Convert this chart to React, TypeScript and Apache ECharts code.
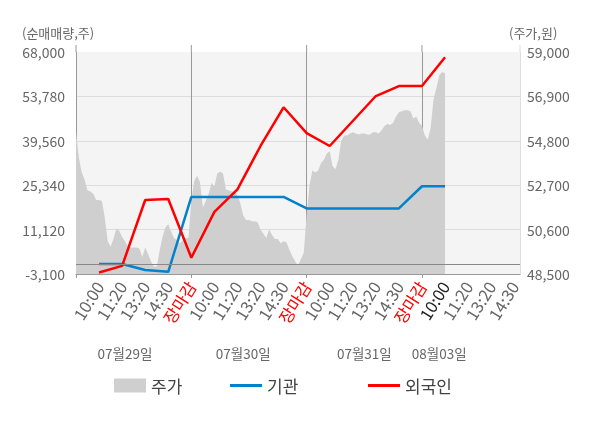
import { useEffect, useRef } from 'react';
import * as echarts from 'echarts';

// ---- data ----
const tickLabels = ['10:00', '11:20', '13:20', '14:30', '장마감'];
const dateLabels = ['07월29일', '07월30일', '07월31일', '08월03일'];
const dateLabelIndex = [17, 58, 100, 126];

// 주가 (price, 원) – sampled 8 points per label slot
const price = [
  55200, 54000, 53300, 52950, 52450, 52400, 52300, 52000, 52000, 51950,
  51150, 50050, 49800, 50150, 50650, 50550, 50250, 50050, 49800, 49750,
  49750, 49750, 49700, 49300, 49750, 49450, 49100, 48850, 48850, 49600,
  50250, 50700, 50850, 50500, 50200, 50100, 49950, 50100, 50200, 50200,
  52000, 52900, 53150, 52850, 51650, 51950, 52300, 52800, 52650, 53250,
  53350, 53250, 52500, 52450, 52400, 52400, 52200, 51850, 51250, 51050,
  51050, 51000, 51000, 50950, 50600, 50400, 50200, 50600, 50350, 50150,
  50150, 49950, 50050, 50000, 49650, 49350, 49100, 48900, 49200, 49500,
  51300, 52700, 53400, 53300, 53400, 53750, 53900, 54200, 54300, 53600,
  53450, 53900, 54800, 55050, 55050, 55150, 55200, 55150, 55100, 55150,
  55150, 55100, 55100, 55200, 55200, 55150, 55300, 55500, 55600, 55550,
  55650, 55950, 56150, 56200, 56250, 56250, 56200, 55850, 55950, 55650,
  55500, 55050, 54850, 55400, 56750, 57300, 57900, 58050, 58000,
];

// 기관 / 외국인 net volume at each label slot (10:00 day1 ... 10:00 day4)
const institution = [100, 100, -1800, -2400, 21600, 21600, 21600, 21600, 21600, 17900, 17900, 17900, 17900, 17900, 25000, 25000];
const foreign = [-2600, -500, 20600, 20900, 2100, 16800, 24000, 37900, 50300, 42000, 37900, 45900, 53900, 57100, 57100, 66300];

const leftMin = -3100;
const leftMax = 68000;
const leftInterval = 14220;
const rightMin = 48500;
const rightMax = 59000;
const rightInterval = 2100;

// ---- structure ----
const PER_SLOT = 8;
const SLOTS_PER_DAY = 5;
const N = 155;
const categories = Array.from({ length: N }, (_, i) => String(i));
const atSlots = (vals: number[]) => {
  const arr: (number | null)[] = Array(N).fill(null);
  vals.forEach((v, k) => {
    arr[(k + 1) * PER_SLOT] = v;
  });
  return arr;
};

const FONT = "'Noto Sans CJK KR', 'Noto Sans', sans-serif";
const fmt = (v: number) => v.toLocaleString('en-US');
const XFS = 16.5;

export default function App() {
  const ref = useRef<HTMLDivElement>(null);
  useEffect(() => {
    const chart = echarts.init(ref.current!, null, { renderer: 'svg' });
    const legendText = { fontSize: 17, color: '#444', fontFamily: FONT };
    const option: any = {
      animation: false,
      textStyle: { fontFamily: FONT },
      grid: {
        left: 76,
        right: 80,
        top: 52,
        bottom: 154,
        show: true,
        backgroundColor: '#f4f4f4',
        borderWidth: 0,
      },
      legend: [
        { data: ['주가'], left: 114, top: 377, padding: 0, icon: 'rect', itemWidth: 32, itemHeight: 14, textStyle: legendText },
        { data: ['기관'], left: 230, top: 377, padding: 0, icon: 'rect', itemWidth: 32, itemHeight: 3, textStyle: legendText },
        { data: ['외국인'], left: 368, top: 377, padding: 0, icon: 'rect', itemWidth: 32, itemHeight: 3, textStyle: legendText },
      ],
      xAxis: {
        type: 'category',
        data: categories,
        boundaryGap: false,
        axisLine: { show: true, onZero: false, lineStyle: { color: '#999' } },
        axisTick: { show: true, interval: (i: number) => i % (PER_SLOT * SLOTS_PER_DAY) === 0, length: 4, lineStyle: { color: '#999' } },
        splitLine: { show: true, interval: (i: number) => i > 0 && i % (PER_SLOT * SLOTS_PER_DAY) === 0, lineStyle: { color: '#999' } },
        axisLabel: {
          interval: (i: number) => i > 0 && i % PER_SLOT === 0,
          rotate: 58,
          margin: 9,
          color: '#666',
          fontSize: XFS,
          fontFamily: FONT,
          formatter: (_v: string, i: number) => {
            const k = i / PER_SLOT - 1;
            const day = Math.floor(k / SLOTS_PER_DAY);
            const pos = k % SLOTS_PER_DAY;
            const t = tickLabels[pos];
            if (pos === SLOTS_PER_DAY - 1) return `{r|${t}}`;
            if (day === dateLabels.length - 1 && pos === 0) return `{d|${t}}`;
            return t;
          },
          rich: {
            r: { color: '#ff0000', fontSize: XFS, fontFamily: FONT },
            d: { color: '#222', fontSize: XFS, fontFamily: FONT },
          },
        },
      },
      yAxis: [
        {
          type: 'value',
          min: leftMin,
          max: leftMax,
          interval: leftInterval,
          position: 'left',
          axisLine: { show: true, lineStyle: { color: '#999' } },
          axisTick: { show: false },
          axisLabel: { color: '#666', fontSize: 14, margin: 11, fontFamily: FONT, formatter: fmt },
          splitLine: { show: true, lineStyle: { color: ['#dcdcdc', '#dcdcdc', '#dcdcdc', '#dcdcdc', '#dcdcdc', '#f4f4f4'] } },
        },
        {
          type: 'value',
          min: rightMin,
          max: rightMax,
          interval: rightInterval,
          position: 'right',
          axisLine: { show: true, lineStyle: { color: '#ddd' } },
          axisTick: { show: false },
          axisLabel: { color: '#666', fontSize: 14, margin: 7, fontFamily: FONT, formatter: fmt },
          splitLine: { show: false },
        },
      ],
      series: [
        {
          name: '주가',
          type: 'line',
          yAxisIndex: 1,
          data: price,
          symbol: 'none',
          showSymbol: false,
          lineStyle: { width: 0, color: '#cfcfcf' },
          itemStyle: { color: '#cfcfcf' },
          areaStyle: { color: '#cfcfcf', opacity: 1, origin: 'start' },
        },
        {
          name: '기관',
          type: 'line',
          yAxisIndex: 0,
          data: atSlots(institution),
          connectNulls: true,
          symbol: 'none',
          itemStyle: { color: '#0082cc' },
          lineStyle: { color: '#0082cc', width: 2.5 },
          markLine: {
            silent: true,
            symbol: 'none',
            label: { show: false },
            lineStyle: { color: '#888', type: 'solid', width: 1 },
            data: [{ yAxis: 0 }],
          },
        },
        {
          name: '외국인',
          type: 'line',
          yAxisIndex: 0,
          data: atSlots(foreign),
          connectNulls: true,
          symbol: 'none',
          itemStyle: { color: '#ff0000' },
          lineStyle: { color: '#ff0000', width: 2.5 },
        },
      ],
    };
    chart.setOption(option);

    const yTop = chart.convertToPixel({ yAxisIndex: 0 }, leftMax) as number;
    const ext = 7;
    const boundaryXs = [0, 40, 80, 120].map((i) => chart.convertToPixel({ xAxisIndex: 0 }, i) as number);
    const rightX = chart.convertToPixel({ xAxisIndex: 0 }, N - 1) as number;
    const graphic: any[] = [];
    boundaryXs.forEach((x) => {
      graphic.push({ type: 'line', shape: { x1: x, y1: yTop - ext, x2: x, y2: yTop }, style: { stroke: '#999', lineWidth: 1 }, silent: true });
    });
    graphic.push({ type: 'line', shape: { x1: rightX, y1: yTop - ext, x2: rightX, y2: yTop }, style: { stroke: '#ddd', lineWidth: 1 }, silent: true });
    dateLabels.forEach((d, j) => {
      const x = chart.convertToPixel({ xAxisIndex: 0 }, dateLabelIndex[j]) as number;
      graphic.push({
        type: 'text',
        x,
        y: 353,
        silent: true,
        style: { text: d, fill: '#666', fontSize: 13.5, fontFamily: FONT, align: 'center', textAlign: 'center', verticalAlign: 'middle', textVerticalAlign: 'middle' },
      });
    });
    graphic.push({
      type: 'text', left: 22, top: 26, silent: true,
      style: { text: '(순매매량,주)', fill: '#666', fontSize: 13, fontFamily: FONT },
    });
    graphic.push({
      type: 'text', left: 509, top: 26, silent: true,
      style: { text: '(주가,원)', fill: '#666', fontSize: 13, fontFamily: FONT },
    });
    chart.setOption({ graphic });

    return () => chart.dispose();
  }, []);
  return <div ref={ref} style={{ position: 'fixed', left: 0, top: 0, width: 600, height: 428 }} />;
}
